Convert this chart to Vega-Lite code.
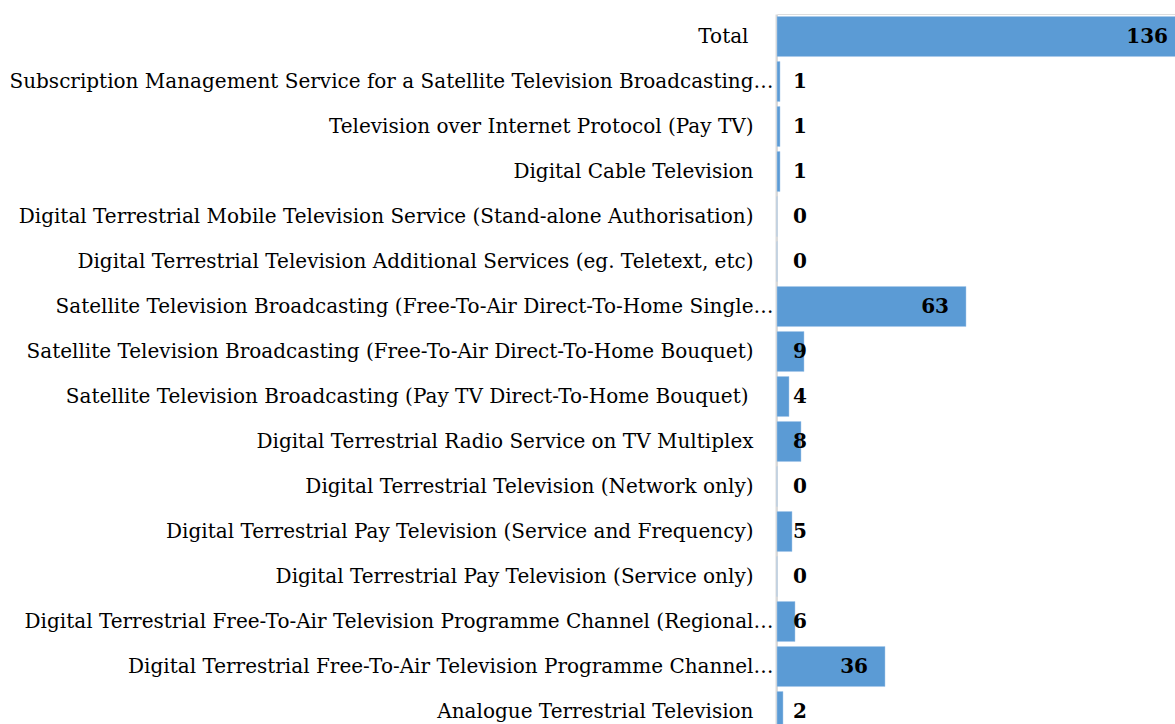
{
  "$schema": "https://vega.github.io/schema/vega-lite/v6.json",
  "autosize": "none",
  "width": 398,
  "height": 710,
  "padding": {"left": 777, "top": 14, "right": 0, "bottom": 0},
  "background": "white",
  "data": {
    "values": [
      {"category": "Total", "value": 136},
      {"category": "Subscription Management Service for a Satellite Television Broadcasting…", "value": 1},
      {"category": "Television over Internet Protocol (Pay TV)", "value": 1},
      {"category": "Digital Cable Television", "value": 1},
      {"category": "Digital Terrestrial Mobile Television Service (Stand-alone Authorisation)", "value": 0},
      {"category": "Digital Terrestrial Television Additional Services (eg. Teletext, etc)", "value": 0},
      {"category": "Satellite Television Broadcasting (Free-To-Air Direct-To-Home Single…", "value": 63},
      {"category": "Satellite Television Broadcasting (Free-To-Air Direct-To-Home Bouquet)", "value": 9},
      {"category": "Satellite Television Broadcasting (Pay TV Direct-To-Home Bouquet)", "value": 4},
      {"category": "Digital Terrestrial Radio Service on TV Multiplex", "value": 8},
      {"category": "Digital Terrestrial Television (Network only)", "value": 0},
      {"category": "Digital Terrestrial Pay Television (Service and Frequency)", "value": 5},
      {"category": "Digital Terrestrial Pay Television (Service only)", "value": 0},
      {"category": "Digital Terrestrial Free-To-Air Television Programme Channel (Regional…", "value": 6},
      {"category": "Digital Terrestrial Free-To-Air Television Programme Channel…", "value": 36},
      {"category": "Analogue Terrestrial Television", "value": 2}
    ]
  },
  "encoding": {
    "y": {
      "field": "category",
      "type": "nominal",
      "sort": null,
      "title": null,
      "scale": {"range": [0, 720], "paddingInner": 0.11, "paddingOuter": 0.055},
      "axis": {
        "ticks": false,
        "offset": 1,
        "domainColor": "#d9d9d9",
        "domainWidth": 2,
        "labelFont": "DejaVu Serif",
        "labelFontSize": 20,
        "labelColor": "#000000",
        "labelLimit": 1000,
        "labelPadding": {
          "condition": [
            {"test": "indexof(datum.label, '…') >= 0", "value": 3},
            {"test": "datum.label === 'Total'", "value": 28},
            {"test": "indexof(datum.label, 'Pay TV Direct') >= 0", "value": 28}
          ],
          "value": 23
        }
      }
    }
  },
  "layer": [
    {
      "mark": {"type": "bar", "color": "#5B9BD5", "stroke": "#a9c8ea", "strokeWidth": 0.5},
      "encoding": {
        "x": {
          "field": "value",
          "type": "quantitative",
          "scale": {"domain": [0, 136], "range": [0, 408], "nice": false},
          "axis": null
        }
      }
    },
    {
      "transform": [{"filter": "datum.value >= 20"}],
      "mark": {"type": "text", "align": "right", "baseline": "middle", "dx": -17, "font": "DejaVu Serif", "fontSize": 20, "fontWeight": "bold", "color": "#000000"},
      "encoding": {
        "x": {"field": "value", "type": "quantitative"},
        "text": {"field": "value", "type": "quantitative"}
      }
    },
    {
      "transform": [{"filter": "datum.value < 20"}],
      "mark": {"type": "text", "align": "left", "baseline": "middle", "dx": 16, "font": "DejaVu Serif", "fontSize": 20, "fontWeight": "bold", "color": "#000000"},
      "encoding": {
        "x": {"datum": 0, "type": "quantitative"},
        "text": {"field": "value", "type": "quantitative"}
      }
    }
  ]
}
